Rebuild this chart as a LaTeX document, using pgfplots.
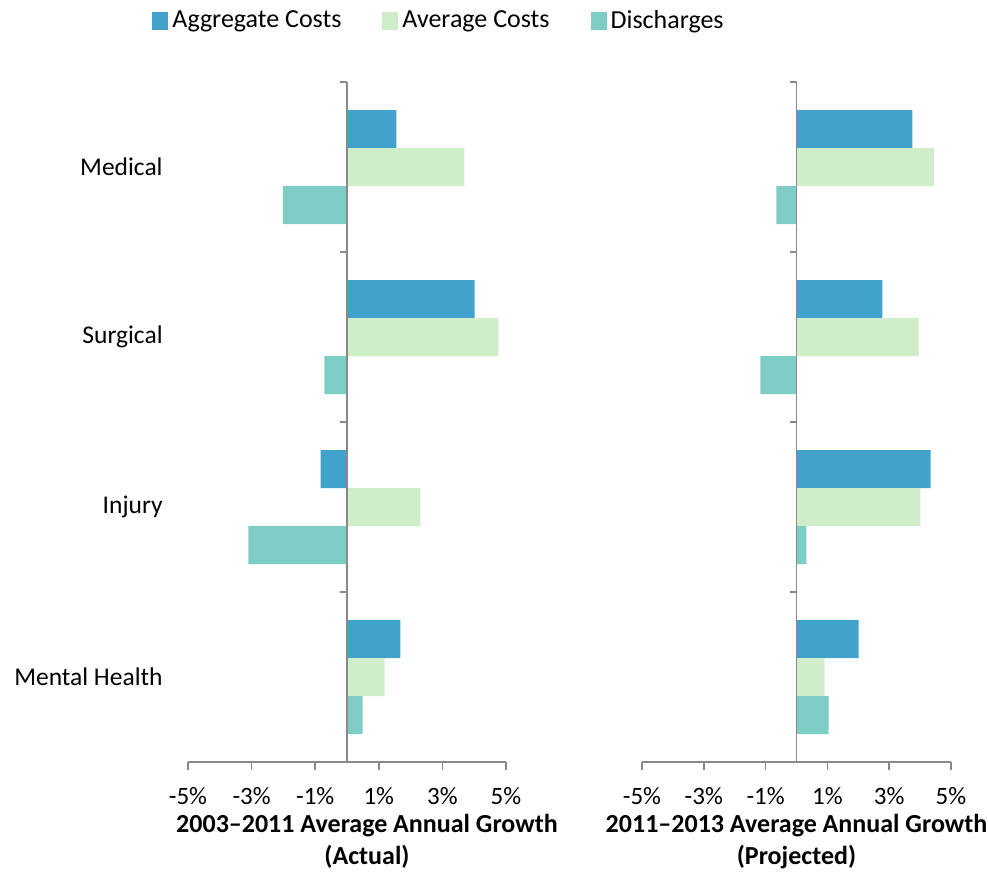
\documentclass[border=0pt]{standalone}
\usepackage{fontspec}
\setmainfont{Carlito}
\usepackage{pgfplots}
\pgfplotsset{compat=1.18}
\definecolor{aggc}{HTML}{41A2CB}
\definecolor{avgc}{HTML}{D0EDC9}
\definecolor{disc}{HTML}{7ECDC4}
\definecolor{axgray}{HTML}{898989}
\pgfplotsset{
 panel/.style={
  scale only axis, height=340pt,
  xmin=-5, xmax=5, ymin=-0.5, ymax=3.5, y dir=reverse,
  xbar, bar width=0.2235,
  separate axis lines,
  axis x line*=bottom, axis y line*=left,
  y axis line style={draw=none},
  x axis line style={axgray, line width=0.8pt, -},
  xtick={-5,-3,-1,1,3,5},
  xticklabels={-5\%,-3\%,-1\%,1\%,3\%,5\%},
  xtick style={axgray, line width=0.8pt},
  tick align=outside, major tick length=4pt,
  ytick={0,1,2,3}, ytick style={draw=none},
  xticklabel style={font=\fontsize{12.5}{14}\selectfont, yshift=-5pt},
  xlabel style={align=center, font=\bfseries\fontsize{13}{16}\selectfont, yshift=2pt},
  clip=false,
  every axis plot post/.append style={legend image code/.code={\fill[##1] (0pt,-4.5pt) rectangle (8pt,4.5pt);}},
 }
}
\newcommand{\yaxisline}{%
\draw[axgray, line width=0.8pt] (axis cs:0,-0.5) -- (axis cs:0,3.5);
\draw[axgray, line width=0.8pt] (axis cs:0,-0.5) -- ([xshift=-3.5pt]axis cs:0,-0.5);
\draw[axgray, line width=0.8pt] (axis cs:0,0.5) -- ([xshift=-3.5pt]axis cs:0,0.5);
\draw[axgray, line width=0.8pt] (axis cs:0,1.5) -- ([xshift=-3.5pt]axis cs:0,1.5);
\draw[axgray, line width=0.8pt] (axis cs:0,2.5) -- ([xshift=-3.5pt]axis cs:0,2.5);
\draw[axgray, line width=0.8pt] (axis cs:0,3.5) -- ([xshift=-3.5pt]axis cs:0,3.5);}
\begin{document}
\begin{tikzpicture}
\useasboundingbox (0,0) rectangle (494pt,437.5pt);
\begin{axis}[panel, at={(94pt,56.5pt)}, anchor=south west, width=159pt,
  yticklabels={Medical,Surgical,Injury,Mental Health},
  yticklabel style={anchor=east, inner sep=0pt, xshift=-8.5pt, font=\fontsize{12.75}{14}\selectfont},
  xlabel={2003--2011 Average Annual Growth\\(Actual)},
  xlabel style={xshift=10pt},
  legend columns=3,
  legend style={draw=none, at={(-0.113,1.112)}, anchor=north west, inner sep=0pt,
    font=\fontsize{13}{15}\selectfont, cells={anchor=west},
    nodes={inner xsep=0pt},
    /tikz/every odd column/.append style={column sep=2pt},
    /tikz/every even column/.append style={column sep=20.5pt}},
]
\addplot[fill=aggc, draw=none, bar shift=-0.2235] coordinates {(1.55,0) (4.01,1) (-0.83,2) (1.68,3)};
\addplot[fill=avgc, draw=none, bar shift=0] coordinates {(3.69,0) (4.76,1) (2.31,2) (1.18,3)};
\addplot[fill=disc, draw=none, bar shift=0.2235] coordinates {(-2.02,0) (-0.71,1) (-3.10,2) (0.49,3)};
\legend{Aggregate Costs, Average Costs, Discharges}
\yaxisline
\end{axis}
\begin{axis}[panel, at={(321pt,56.5pt)}, anchor=south west, width=154.5pt,
  yticklabels={},
  xlabel={2011--2013 Average Annual Growth\\(Projected)},
]
\addplot[fill=aggc, draw=none, bar shift=-0.2235] coordinates {(3.75,0) (2.78,1) (4.34,2) (2.01,3)};
\addplot[fill=avgc, draw=none, bar shift=0] coordinates {(4.45,0) (3.95,1) (4.01,2) (0.91,3)};
\addplot[fill=disc, draw=none, bar shift=0.2235] coordinates {(-0.65,0) (-1.17,1) (0.32,2) (1.04,3)};
\yaxisline
\end{axis}
\end{tikzpicture}
\end{document}
